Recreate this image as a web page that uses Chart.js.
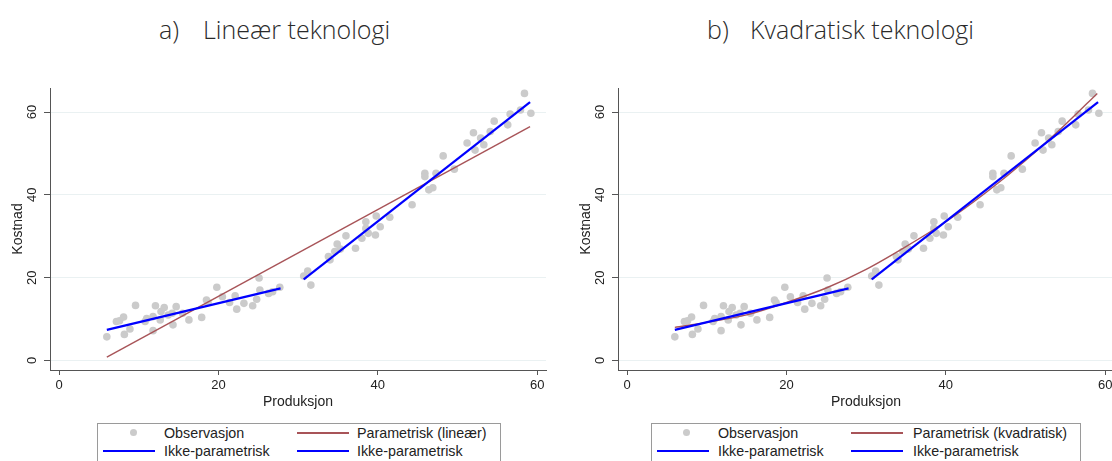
<!DOCTYPE html>
<html lang="no">
<head>
<meta charset="utf-8">
<title>Kostnad og produksjon</title>
<script src="https://cdn.jsdelivr.net/npm/chart.js@4.4.1/dist/chart.umd.min.js"></script>
<style>
  html, body { margin: 0; padding: 0; background: #fff; }
  body { width: 1112px; height: 461px; position: relative; overflow: hidden;
         font-family: "Liberation Sans", Arial, sans-serif; }
  .panel { position: absolute; top: 0; width: 556px; height: 461px; }
  .panel canvas { position: absolute; left: 0; top: 0; }
  .heading { position: absolute; top: 11px; font-family: "Open Sans", sans-serif; font-weight: 300;
             font-size: 25px; line-height: 36px; color: #2a2a2a; white-space: nowrap; }
  .legend { position: absolute; top: 423px; height: 60px; border: 1px solid #9a9a9a;
            box-sizing: border-box; background: #fff; }
  .legend .txt { position: absolute; font-size: 14.3px; line-height: 16px; color: #222; white-space: nowrap; }
  .legend .dot { position: absolute; width: 7px; height: 7px; border-radius: 50%; background: #cbcbcb; }
  .legend .ln { position: absolute; width: 52px; }
  .ln.red { height: 1.5px; background: #a85458; }
  .ln.blue { height: 2px; background: #0000ff; }
</style>
</head>
<body>

<div class="heading" style="left:159px">a)</div>
<div class="heading" style="left:203px">Lineær teknologi</div>
<div class="heading" style="left:707px">b)</div>
<div class="heading" style="left:750px">Kvadratisk teknologi</div>

<div class="panel" style="left:0"><canvas id="chartLin" width="556" height="461"></canvas></div>
<div class="panel" style="left:568px"><canvas id="chartQuad" width="556" height="461"></canvas></div>

<div class="legend" style="left:97px; width:404px">
  <span class="dot" style="left:32px; top:5px"></span>
  <span class="txt" style="left:66px; top:1px">Observasjon</span>
  <span class="ln red" style="left:199px; top:8px"></span>
  <span class="txt" style="left:259px; top:1px">Parametrisk (lineær)</span>
  <span class="ln blue" style="left:5px; top:26px"></span>
  <span class="txt" style="left:66px; top:19px">Ikke-parametrisk</span>
  <span class="ln blue" style="left:199px; top:26px"></span>
  <span class="txt" style="left:259px; top:19px">Ikke-parametrisk</span>
</div>

<div class="legend" style="left:651px; width:430px">
  <span class="dot" style="left:31px; top:5px"></span>
  <span class="txt" style="left:66px; top:1px">Observasjon</span>
  <span class="ln red" style="left:199px; top:8px"></span>
  <span class="txt" style="left:261px; top:1px">Parametrisk (kvadratisk)</span>
  <span class="ln blue" style="left:5px; top:26px"></span>
  <span class="txt" style="left:66px; top:19px">Ikke-parametrisk</span>
  <span class="ln blue" style="left:199px; top:26px"></span>
  <span class="txt" style="left:261px; top:19px">Ikke-parametrisk</span>
</div>

<script>
// Observations (produksjon, kostnad)
const obsX = [6.0, 7.2, 7.6, 8.1, 8.2, 8.9, 9.6, 10.8, 11.0, 11.8, 11.8, 12.1, 12.7, 12.8, 13.2, 13.7,
              14.2, 14.3, 14.7, 15.5, 16.3, 17.9, 18.5, 18.7, 19.8, 20.5, 21.4, 22.1, 22.3, 23.2, 24.3,
              24.8, 25.1, 25.2, 26.3, 26.8, 27.7,
              30.7, 31.2, 31.6, 33.8, 34.0, 34.6, 34.9, 35.3, 36.0, 37.2, 38.0, 38.5, 38.5, 38.8, 39.7,
              39.8, 40.3, 41.5, 44.3, 45.9, 45.9, 46.4, 46.9, 47.3, 48.2, 49.6, 51.2, 52.0, 52.2, 52.9,
              53.3, 54.1, 54.6, 56.3, 56.6, 57.9, 58.4, 59.2];
const obsY = [5.7, 9.4, 9.6, 10.5, 6.3, 7.6, 13.3, 9.4, 10.1, 7.2, 10.6, 13.2, 9.8, 11.8, 12.8, 11.0,
              11.4, 8.6, 13.0, 11.4, 9.8, 10.4, 14.6, 14.0, 17.7, 15.4, 14.0, 15.6, 12.4, 13.8, 13.2,
              14.8, 19.9, 17.0, 16.2, 16.6, 17.7,
              20.4, 21.6, 18.2, 25.1, 24.3, 26.3, 28.1, 26.9, 30.1, 27.1, 29.5, 33.5, 31.9, 30.7, 30.3,
              34.9, 32.3, 34.6, 37.6, 45.2, 44.4, 41.2, 41.7, 45.2, 49.4, 46.2, 52.5, 55.0, 50.8, 53.7,
              52.1, 55.3, 57.8, 56.9, 59.5, 60.5, 64.5, 59.7];

// Parametric fits
const linFitX = [6.0, 59.1];
const linFitY = [0.8, 56.5];
const quadFitX = [6, 10, 15, 20, 25, 30, 35, 40, 45, 50, 55, 59];
const quadFitY = [8.0, 9.2, 11.0, 14.0, 17.5, 22.0, 27.5, 33.5, 40.5, 48.3, 57.0, 64.5];

// Non-parametric fits, one piece on each side of the gap
const npLowX = [6.0, 27.8];
const npLowY = [7.4, 17.4];
const npHighX = [30.7, 59.1];
const npHighY = [19.6, 62.4];

const xTicks = [0, 20, 40, 60];
const yTicks = [0, 20, 40, 60];

const AXIS = '#555555';
const TEXT = '#222222';
const FONT = '"Liberation Sans", Arial, sans-serif';

function points(xs, ys) {
  return xs.map((x, i) => ({ x: x, y: ys[i] }));
}

function buildPanel(id, fitX, fitY, curved) {
  const ctx = document.getElementById(id).getContext('2d');
  return new Chart(ctx, {
    type: 'scatter',
    data: {
      datasets: [
        {
          data: points(npLowX, npLowY), showLine: true, pointRadius: 0,
          borderColor: '#0000ff', borderWidth: 2.2, order: 0
        },
        {
          data: points(npHighX, npHighY), showLine: true, pointRadius: 0,
          borderColor: '#0000ff', borderWidth: 2.2, order: 0
        },
        {
          data: points(fitX, fitY), showLine: true, pointRadius: 0,
          borderColor: '#a85458', borderWidth: 1.4, order: 1,
          cubicInterpolationMode: curved ? 'monotone' : 'default'
        },
        {
          data: points(obsX, obsY), pointRadius: 3.8, pointBorderWidth: 0,
          pointBackgroundColor: '#cbcbcb', order: 2
        }
      ]
    },
    options: {
      responsive: false,
      animation: false,
      devicePixelRatio: 1,
      layout: { padding: { left: 0, top: 88, right: 10, bottom: 49 } },
      plugins: { legend: { display: false }, tooltip: { enabled: false } },
      scales: {
        x: {
          type: 'linear', min: -1.13, max: 61.1,
          afterBuildTicks: s => { s.ticks = xTicks.map(v => ({ value: v })); },
          afterFit: s => { s.height = 42; },
          grid: { drawOnChartArea: false, tickLength: 5, tickColor: AXIS },
          border: { color: AXIS, width: 1 },
          ticks: { font: { family: FONT, size: 13 }, color: TEXT, padding: 3, maxRotation: 0 },
          title: { display: true, text: 'Produksjon', color: TEXT,
                   font: { family: FONT, size: 14 }, padding: { top: 0, bottom: 1 } }
        },
        y: {
          type: 'linear', min: -2.3, max: 65.8,
          afterBuildTicks: s => { s.ticks = yTicks.map(v => ({ value: v })); },
          afterFit: s => { s.width = 50; },
          grid: { color: '#eaf1f2', lineWidth: 1, tickLength: 6, tickColor: AXIS },
          border: { color: AXIS, width: 1 },
          ticks: { font: { family: FONT, size: 13 }, color: TEXT, padding: 4,
                   minRotation: 90, maxRotation: 90, crossAlign: 'center' },
          title: { display: true, text: 'Kostnad', color: TEXT,
                   font: { family: FONT, size: 14 }, padding: { top: 10, bottom: 0 } }
        }
      }
    }
  });
}

buildPanel('chartLin', linFitX, linFitY, false);
buildPanel('chartQuad', quadFitX, quadFitY, true);
</script>
</body>
</html>
